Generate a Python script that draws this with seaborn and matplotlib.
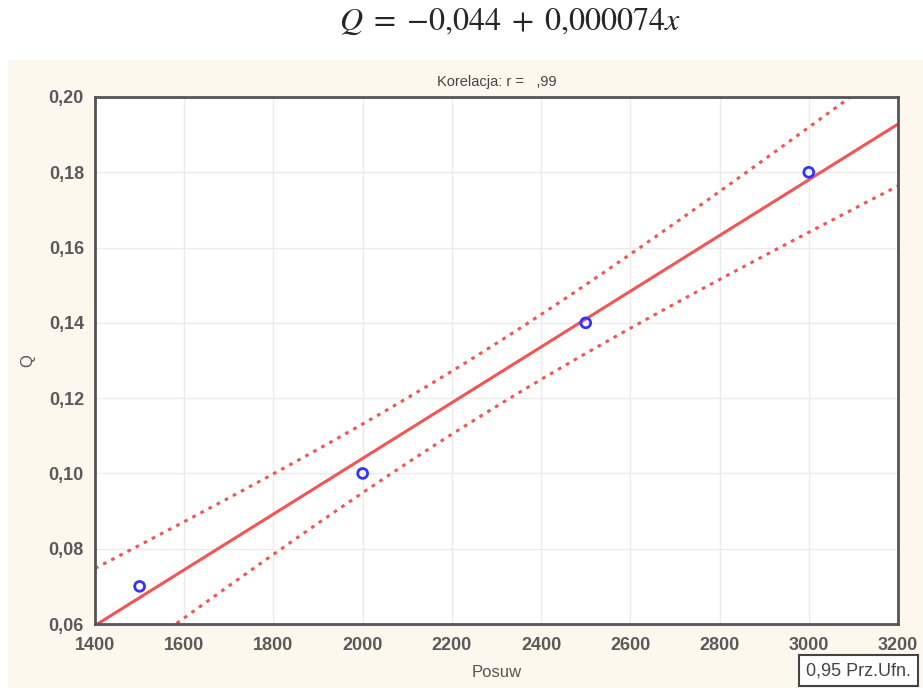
import numpy as np
import pandas as pd
import matplotlib.pyplot as plt
import seaborn as sns
from matplotlib.patches import Rectangle
from matplotlib.ticker import FuncFormatter

posuw = [1500, 2000, 2500, 3000]
q = [0.07, 0.10, 0.14, 0.18]
x_ticks = [1400, 1600, 1800, 2000, 2200, 2400, 2600, 2800, 3000, 3200]
y_ticks = [0.06, 0.08, 0.10, 0.12, 0.14, 0.16, 0.18, 0.20]
t_crit = 4.303  # t(0.975, df=2)

table = pd.DataFrame({'Posuw': posuw, 'Q': q})

sns.set_style('white')
plt.rcParams['font.family'] = ['Liberation Sans', 'DejaVu Sans']

fig = plt.figure(figsize=(9.23, 6.88), dpi=100)
fig.patches.append(Rectangle((8 / 923, 0), 1, 1 - 60 / 688, transform=fig.transFigure,
                             facecolor='#fdf8ee', edgecolor='none', zorder=-10))
ax = fig.add_axes([95 / 923, 1 - 624 / 688, 803 / 923, 527 / 688])

# regression + 95% confidence band
x = np.array(posuw, dtype=float)
y = np.array(q)
b, a = np.polyfit(x, y, 1)
resid = y - (a + b * x)
s = np.sqrt(np.sum(resid ** 2) / (len(x) - 2))
xs = np.linspace(1400, 3200, 200)
fit = a + b * xs
se = s * np.sqrt(1 / len(x) + (xs - x.mean()) ** 2 / np.sum((x - x.mean()) ** 2))
band = pd.DataFrame({'x': xs, 'fit': fit, 'lo': fit - t_crit * se, 'hi': fit + t_crit * se})

red = '#f25555'
sns.lineplot(data=band, x='x', y='fit', ax=ax, color=red, lw=2.2)
sns.lineplot(data=band, x='x', y='hi', ax=ax, color=red, lw=2.2, linestyle=(0, (1.2, 1.8)))
sns.lineplot(data=band, x='x', y='lo', ax=ax, color=red, lw=2.2, linestyle=(0, (1.2, 1.8)))
sns.scatterplot(data=table, x='Posuw', y='Q', ax=ax, marker='o', s=50,
                facecolor='none', edgecolor='#3333ff', linewidth=2, zorder=5)

ax.set_xlim(1400, 3200)
ax.set_ylim(0.06, 0.20)
ax.set_xticks(x_ticks)
ax.set_yticks(y_ticks)
ax.yaxis.set_major_formatter(FuncFormatter(lambda v, p: f'{v:.2f}'.replace('.', ',')))
ax.grid(True, color='#ebebeb', lw=1)
ax.tick_params(direction='in', length=3, width=1.5, color='#444444',
               labelsize=13, labelcolor='#5a5a5a')
ax.tick_params(axis='x', pad=9)
ax.tick_params(axis='y', pad=8)
for lab in ax.get_xticklabels() + ax.get_yticklabels():
    lab.set_fontweight('bold')
for sp in ax.spines.values():
    sp.set_color('#555555')
    sp.set_linewidth(2)
ax.set_xlabel('Posuw', fontsize=12, color='#555555', labelpad=8)
ax.set_ylabel('Q', fontsize=12, color='#555555', labelpad=10)
ax.set_title('Korelacja: r =   ,99', fontsize=10.5, color='#444444', pad=8)

fig.text(510 / 923, 1 - 22 / 688, r'$Q\;=\;{-}0{,}044\;+\;0{,}000074x$', ha='center', va='center',
         fontsize=23, math_fontfamily='stix')
fig.text(806 / 923, 1 - 662 / 688, '0,95 Prz.Ufn.', fontsize=13, color='#444444',
         va='top', bbox=dict(facecolor='white', edgecolor='#444444', lw=1.5, pad=5))

fig.savefig('out.png', dpi=100)
